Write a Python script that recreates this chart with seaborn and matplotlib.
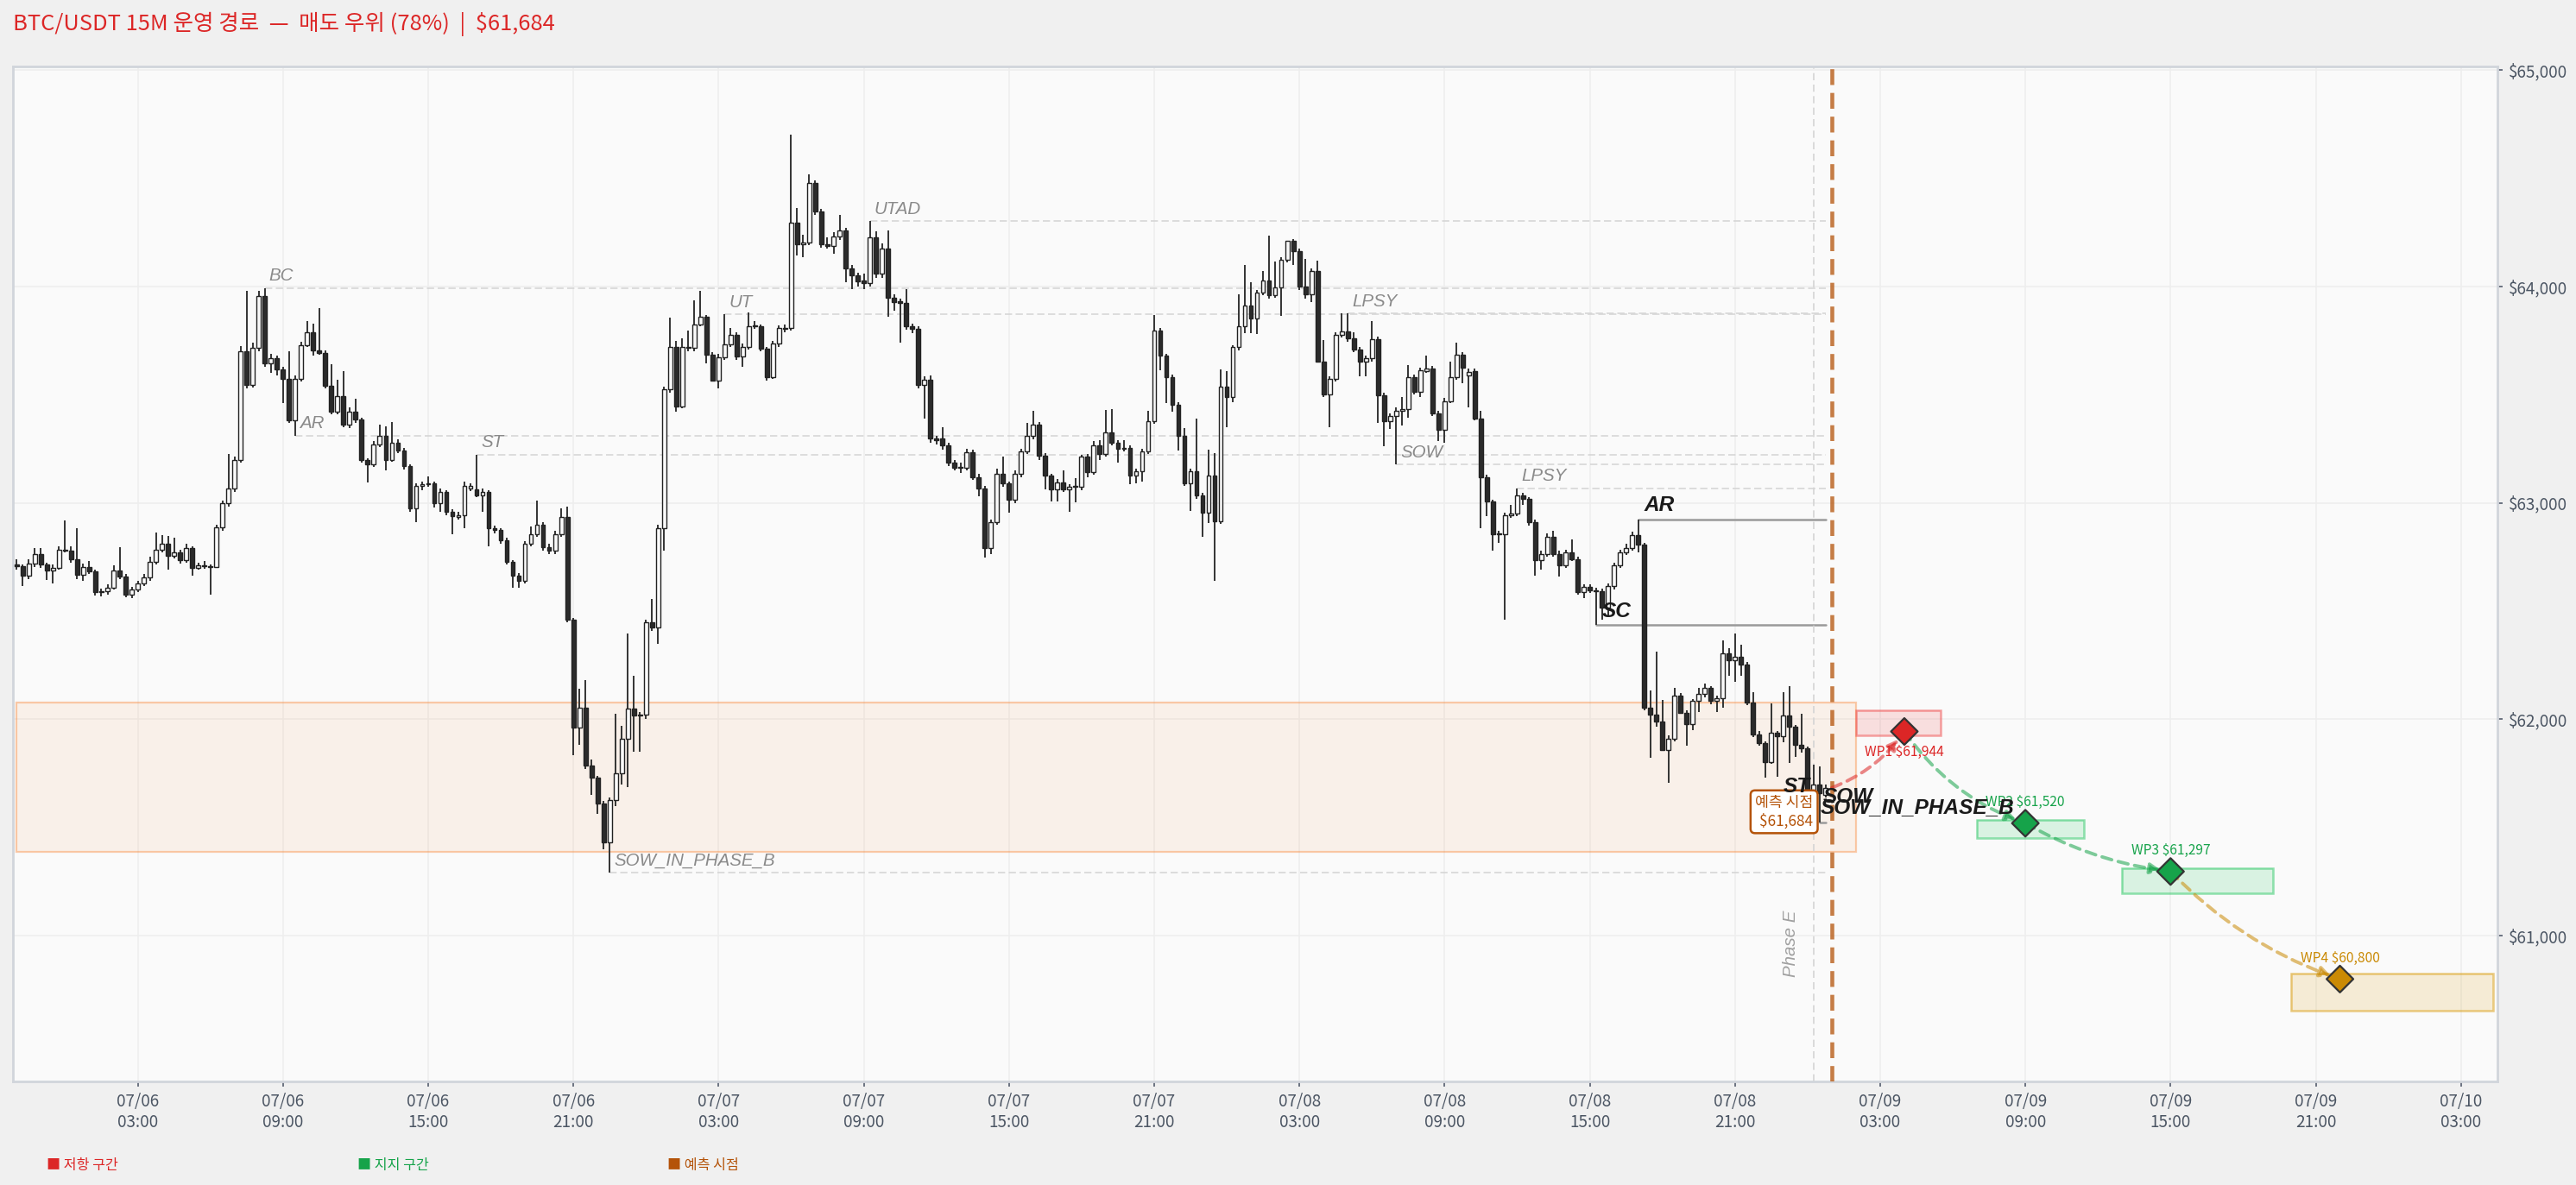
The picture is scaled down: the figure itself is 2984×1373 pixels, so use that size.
import numpy as np
import pandas as pd
import matplotlib
matplotlib.use('Agg')
import matplotlib.pyplot as plt
import matplotlib.dates as mdates
from matplotlib.patches import Rectangle
from matplotlib.ticker import FixedLocator, FuncFormatter
import seaborn as sns

# --- candle data (15M) ---
first_candle = '2024-07-05 22:00'

opens = [
    62714, 62706, 62664, 62719, 62765, 62714, 62686, 62701, 62783, 62780,
    62741, 62668, 62704, 62682, 62590, 62594, 62609, 62686, 62660, 62576,
    62600, 62627, 62655, 62728, 62783, 62811, 62756, 62770, 62737, 62792,
    62701, 62710, 62706, 62704, 62888, 62998, 63068, 63200, 63699, 63546,
    63717, 63956, 63647, 63669, 63616, 63574, 63381, 63574, 63730, 63789,
    63706, 63693, 63541, 63421, 63495, 63362, 63421, 63384, 63197, 63178,
    63270, 63311, 63200, 63280, 63243, 63169, 62976, 63077, 63087, 63090,
    62998, 63050, 62958, 62936, 62943, 63068, 63063, 63035, 63050, 62884,
    62875, 62829, 62728, 62664, 62642, 62811, 62857, 62899, 62796, 62778,
    62857, 62934, 62461, 61964, 62054, 61788, 61730, 61612, 61431, 61626,
    61750, 61912, 62050, 62016, 62020, 62449, 62425, 62884, 63524, 63721,
    63445, 63721, 63715, 63825, 63862, 63684, 63564, 63671, 63734, 63776,
    63675, 63721, 63822, 63818, 63712, 63583, 63735, 63803, 63807, 64296,
    64195, 64204, 64480, 64346, 64195, 64189, 64230, 64259, 64083, 64051,
    64028, 64015, 64226, 64061, 64177, 63950, 63932, 63926, 63816, 63803,
    63546, 63568, 63298, 63298, 63265, 63188, 63164, 63164, 63234, 63120,
    63068, 62792, 62912, 63136, 63090, 63013, 63135, 63237, 63309, 63363,
    63217, 63125, 63064, 63096, 63064, 63073, 63073, 63213, 63142, 63266,
    63227, 63327, 63277, 63252, 63256, 63128, 63145, 63237, 63377, 63797,
    63680, 63583, 63453, 63310, 63092, 63145, 63035, 62957, 63125, 62917,
    63538, 63488, 63719, 63816, 63911, 63851, 63971, 64028, 63961, 63997,
    64122, 64210, 64165, 64000, 63965, 64071, 63655, 63502, 63572, 63776,
    63794, 63759, 63709, 63652, 63669, 63757, 63498, 63377, 63401, 63424,
    63434, 63581, 63515, 63609, 63623, 63413, 63338, 63470, 63581, 63683,
    63588, 63608, 63391, 63118, 63006, 62854, 62854, 62942, 62950, 63035,
    63017, 62912, 62737, 62765, 62844, 62765, 62710, 62770, 62741, 62590,
    62612, 62596, 62594, 62517, 62618, 62710, 62770, 62792, 62851, 62806,
    62054, 62021, 61990, 61857, 61910, 62111, 62031, 61977, 62087, 62116,
    62147, 62087, 62098, 62304, 62273, 62288, 62253, 62078, 61932, 61892,
    61804, 61937, 61921, 62017, 61967, 61884, 61865, 61648, 61700, 61650,
]
closes = [
    62706, 62664, 62719, 62765, 62714, 62686, 62701, 62783, 62780, 62741,
    62668, 62704, 62682, 62590, 62594, 62609, 62686, 62660, 62576, 62600,
    62627, 62655, 62728, 62783, 62811, 62756, 62770, 62737, 62792, 62701,
    62710, 62706, 62704, 62888, 62998, 63068, 63200, 63699, 63546, 63717,
    63956, 63647, 63669, 63616, 63574, 63381, 63574, 63730, 63789, 63706,
    63693, 63541, 63421, 63495, 63362, 63421, 63384, 63197, 63178, 63270,
    63311, 63200, 63280, 63243, 63169, 62976, 63077, 63087, 63090, 62998,
    63050, 62958, 62940, 62943, 63077, 63077, 63035, 63050, 62884, 62875,
    62829, 62728, 62664, 62642, 62811, 62857, 62899, 62796, 62778, 62857,
    62934, 62462, 61964, 62054, 61788, 61730, 61612, 61431, 61626, 61750,
    61912, 62050, 62016, 62020, 62449, 62425, 62884, 63524, 63721, 63445,
    63721, 63715, 63825, 63862, 63684, 63564, 63671, 63734, 63776, 63675,
    63721, 63818, 63818, 63712, 63583, 63735, 63807, 63807, 64296, 64195,
    64204, 64480, 64346, 64195, 64189, 64230, 64259, 64083, 64051, 64024,
    64015, 64226, 64061, 64177, 63950, 63928, 63926, 63816, 63803, 63546,
    63568, 63298, 63292, 63265, 63188, 63164, 63164, 63234, 63120, 63068,
    62792, 62912, 63136, 63090, 63013, 63135, 63237, 63309, 63363, 63217,
    63125, 63064, 63096, 63064, 63073, 63073, 63213, 63142, 63266, 63227,
    63327, 63277, 63249, 63256, 63128, 63145, 63237, 63377, 63797, 63680,
    63583, 63453, 63310, 63092, 63145, 63035, 62957, 63125, 62917, 63538,
    63488, 63719, 63816, 63911, 63851, 63971, 64028, 63961, 63997, 64122,
    64210, 64165, 64000, 63965, 64071, 63655, 63502, 63572, 63776, 63794,
    63759, 63709, 63652, 63669, 63757, 63498, 63377, 63401, 63424, 63434,
    63581, 63515, 63612, 63623, 63413, 63338, 63470, 63581, 63683, 63626,
    63605, 63391, 63118, 63006, 62854, 62857, 62942, 62950, 63035, 63017,
    62912, 62737, 62765, 62844, 62765, 62710, 62770, 62741, 62590, 62612,
    62596, 62594, 62517, 62618, 62710, 62770, 62792, 62851, 62806, 62054,
    62021, 61990, 61857, 61910, 62111, 62031, 61977, 62087, 62116, 62147,
    62087, 62098, 62304, 62273, 62288, 62253, 62078, 61932, 61892, 61804,
    61937, 61921, 62017, 61967, 61884, 61865, 61648, 61700, 61660, 61684,
]
highs = [
    62740, 62715, 62740, 62790, 62790, 62725, 62715, 62800, 62921, 62800,
    62884, 62720, 62730, 62690, 62605, 62625, 62710, 62796, 62670, 62612,
    62640, 62670, 62750, 62862, 62850, 62848, 62840, 62785, 62810, 62800,
    62725, 62733, 62715, 62900, 63010, 63225, 63215, 63724, 63982, 63740,
    63982, 63993, 63690, 63680, 63630, 63700, 63590, 63745, 63840, 63830,
    63899, 63705, 63640, 63570, 63610, 63440, 63480, 63395, 63205, 63285,
    63362, 63355, 63372, 63295, 63255, 63180, 63090, 63100, 63123, 63100,
    63065, 63060, 62970, 62960, 63098, 63090, 63224, 63065, 63060, 62895,
    62885, 62840, 62735, 62675, 62825, 62893, 63010, 62910, 62810, 62870,
    62976, 62985, 62470, 62140, 62183, 61815, 61740, 61625, 61640, 62026,
    61970, 62396, 62201, 62035, 62460, 62557, 62900, 63537, 63855, 63750,
    63760, 63798, 63936, 63982, 63870, 63695, 63690, 63871, 63808, 63790,
    63735, 63879, 63842, 63825, 63720, 63750, 63820, 63825, 64700, 64364,
    64240, 64520, 64490, 64360, 64226, 64250, 64331, 64270, 64100, 64065,
    64060, 64303, 64255, 64200, 64258, 63965, 63945, 63990, 63830, 63815,
    63585, 63590, 63310, 63350, 63280, 63200, 63185, 63252, 63245, 63135,
    63080, 62925, 63160, 63215, 63100, 63150, 63250, 63370, 63427, 63373,
    63230, 63135, 63110, 63150, 63085, 63115, 63224, 63225, 63285, 63290,
    63430, 63434, 63290, 63290, 63265, 63160, 63250, 63427, 63868, 63810,
    63690, 63595, 63465, 63345, 63160, 63391, 63045, 63245, 63230, 63619,
    63609, 63730, 63964, 64099, 64018, 63985, 64071, 64236, 64114, 64135,
    64213, 64220, 64175, 64128, 64085, 64118, 63752, 63585, 63790, 63876,
    63877, 63790, 63720, 63680, 63840, 63770, 63510, 63415, 63440, 63491,
    63638, 63595, 63625, 63680, 63635, 63427, 63485, 63652, 63740, 63695,
    63620, 63620, 63427, 63130, 63015, 62870, 62955, 62990, 63068, 63045,
    63025, 62925, 62780, 62860, 62870, 62780, 62785, 62830, 62752, 62625,
    62625, 62610, 62605, 62630, 62725, 62785, 62810, 62869, 62925, 62815,
    62134, 62313, 62091, 61925, 62144, 62120, 62040, 62095, 62144, 62167,
    62155, 62110, 62366, 62330, 62397, 62345, 62265, 62127, 61945, 61900,
    62074, 61945, 62127, 62154, 61975, 62025, 61875, 61790, 61781, 61700,
]
lows = [
    62690, 62618, 62650, 62705, 62700, 62645, 62630, 62690, 62770, 62725,
    62650, 62640, 62670, 62572, 62570, 62575, 62600, 62650, 62565, 62560,
    62590, 62615, 62640, 62715, 62770, 62692, 62745, 62720, 62725, 62664,
    62690, 62695, 62576, 62698, 62870, 62985, 63050, 63185, 63530, 63535,
    63700, 63630, 63600, 63590, 63460, 63370, 63311, 63560, 63720, 63680,
    63685, 63530, 63410, 63410, 63350, 63345, 63370, 63185, 63096, 63165,
    63260, 63150, 63190, 63230, 63155, 62958, 62912, 63060, 63075, 62980,
    62958, 62945, 62857, 62925, 62884, 63055, 63025, 62958, 62800, 62860,
    62811, 62715, 62609, 62609, 62630, 62800, 62845, 62780, 62765, 62765,
    62845, 62450, 61833, 61883, 61770, 61651, 61565, 61398, 61291, 61600,
    61700, 61685, 61850, 61850, 62000, 62410, 62350, 62780, 63510, 63420,
    63436, 63700, 63700, 63815, 63647, 63564, 63531, 63660, 63720, 63660,
    63630, 63710, 63805, 63700, 63565, 63574, 63720, 63790, 63795, 64144,
    64134, 64190, 64330, 64180, 64175, 64150, 64215, 64020, 63990, 64000,
    63990, 64000, 64040, 64040, 63860, 63890, 63740, 63800, 63785, 63530,
    63390, 63280, 63270, 63245, 63170, 63150, 63140, 63150, 63105, 63031,
    62747, 62765, 62900, 63075, 62954, 63000, 63120, 63225, 63295, 63200,
    63064, 63006, 63006, 63050, 62958, 63003, 63060, 63120, 63130, 63200,
    63215, 63265, 63185, 63240, 63085, 63092, 63100, 63225, 63365, 63612,
    63462, 63420, 63241, 63080, 62964, 63020, 62843, 62907, 62640, 62905,
    63348, 63467, 63705, 63786, 63783, 63780, 63960, 63945, 63950, 63866,
    64110, 64101, 63985, 63943, 63928, 63648, 63490, 63348, 63560, 63765,
    63745, 63695, 63586, 63586, 63655, 63370, 63263, 63341, 63177, 63356,
    63395, 63500, 63491, 63600, 63400, 63287, 63277, 63460, 63570, 63552,
    63441, 63380, 62883, 62940, 62779, 62815, 62462, 62930, 62940, 62990,
    62895, 62664, 62692, 62750, 62750, 62660, 62700, 62730, 62575, 62560,
    62585, 62437, 62462, 62475, 62600, 62700, 62760, 62780, 62770, 62040,
    61822, 61967, 61854, 61708, 61900, 62025, 61878, 61950, 62035, 62100,
    62068, 62035, 62055, 62203, 62173, 62200, 62065, 61920, 61880, 61732,
    61795, 61735, 61894, 61800, 61828, 61845, 61600, 61620, 61522, 61640,
]

# --- Wyckoff levels (event candle index, level) ---
level_names = ['BC', 'AR', 'ST', 'UT', 'UTAD', 'LPSY', 'SOW', 'LPSY', 'SOW_IN_PHASE_B']
level_idx = [41, 46, 76, 117, 141, 220, 228, 248, 98]
level_price = [63993, 63311, 63224, 63871, 64303, 63877, 63177, 63068, 61291]

recent_names = ['SC', 'AR', '']
recent_idx = [261, 268, 298]
recent_price = [62437, 62925, 61522]

extra_labels = ['ST', 'SOW', 'SOW_IN_PHASE_B']
extra_times = ['2024-07-08 22:59', '2024-07-09 00:38', '2024-07-09 00:31']
extra_prices = [61662, 61617, 61568]

# --- range zone ---
range_end = '2024-07-09 02:00'
range_low, range_high = 61389, 62077

# --- forecast ---
forecast_time = '2024-07-09 01:00'
forecast_price = 61684
phase_time = '2024-07-09 00:15'

wp_labels = ['WP1', 'WP2', 'WP3', 'WP4']
wp_times = ['2024-07-09 04:00', '2024-07-09 09:00', '2024-07-09 15:00', '2024-07-09 22:00']
wp_prices = [61944, 61520, 61297, 60800]
zone_start = ['2024-07-09 02:00', '2024-07-09 07:00', '2024-07-09 13:00', '2024-07-09 20:00']
zone_end = ['2024-07-09 05:30', '2024-07-09 11:25', '2024-07-09 19:15', '2024-07-10 04:20']
zone_low = [61927, 61450, 61198, 60652]
zone_high = [62041, 61534, 61312, 60826]

y_ticks = [61000, 62000, 63000, 64000, 65000]

title = 'BTC/USDT 15M 운영 경로  —  매도 우위 (78%)  |  $61,684'

# --- styling ---
sns.set_theme(style='whitegrid')
plt.rcParams['font.family'] = ['Noto Sans CJK KR', 'DejaVu Sans']
plt.rcParams['axes.unicode_minus'] = False

RED, GREEN, GOLD, BROWN = '#dc2626', '#16a34a', '#ca8a04', '#b45309'
wp_colors = [RED, GREEN, GREEN, GOLD]
zone_colors = ['#ef4444', '#22c55e', '#22c55e', '#d99a06']
path_colors = [RED, GREEN, GREEN, GOLD]
path_rad = [0.15, 0.16, 0.10, 0.12]
label_dy = [-8.7, 8.7, 8.7, 8.7]
LATIN = ['Liberation Sans', 'DejaVu Sans']

def dn(s):
    return mdates.date2num(pd.Timestamp(s))

times = pd.date_range(first_candle, periods=len(closes), freq='15min')
df = pd.DataFrame({'t': mdates.date2num(times), 'open': opens, 'high': highs,
                   'low': lows, 'close': closes})
df['up'] = df['close'] >= df['open']
df['bottom'] = df[['open', 'close']].min(axis=1)
df['height'] = (df['close'] - df['open']).abs().clip(lower=4)

fig = plt.figure(figsize=(14.92, 6.865), dpi=200, facecolor='#f0f0f0')
ax = fig.add_axes([0.00493, 0.0876, 0.9645, 0.8565])
ax.set_facecolor('#fafafa')

# range zone
r0 = df['t'].iloc[0]
ax.add_patch(Rectangle((r0, range_low), dn(range_end) - r0, range_high - range_low,
                       facecolor='#f97316', alpha=0.07, edgecolor='none', zorder=1))
ax.add_patch(Rectangle((r0, range_low), dn(range_end) - r0, range_high - range_low,
                       facecolor='none', edgecolor='#f97316', alpha=0.35, lw=0.8, zorder=1))

# Wyckoff level lines
t_end = df['t'].iloc[-1]
for name, i, p in zip(level_names, level_idx, level_price):
    t0 = df['t'].iloc[i]
    ax.plot([t0, t_end], [p, p], color='#d6d6d6', lw=0.6, ls=(0, (5, 2.5)), zorder=2)
    ax.annotate(name, (t0, p), xytext=(1.8, 3), textcoords='offset points',
                ha='left', va='baseline', fontsize=7.4, style='italic',
                color='#8a8a8a', family=LATIN, zorder=6)

for name, i, p in zip(recent_names, recent_idx, recent_price):
    t0 = df['t'].iloc[i]
    ax.plot([t0, t_end], [p, p], color='#9a9a9a', lw=0.9, zorder=2)
    if name:
        ax.annotate(name, (t0, p), xytext=(2.4, 3.3), textcoords='offset points',
                    ha='left', va='baseline', fontsize=8.8, style='italic',
                    weight='bold', color='#1a1a1a', family=LATIN, zorder=10)

# candles
w = 0.68 / 96
ax.vlines(df['t'], df['low'], df['high'], color='#333333', lw=0.7, zorder=3)
up = df[df['up']]
dn_ = df[~df['up']]
ax.bar(up['t'], up['height'], bottom=up['bottom'], width=w, color='#fafafa',
       edgecolor='#222222', linewidth=0.5, zorder=4)
ax.bar(dn_['t'], dn_['height'], bottom=dn_['bottom'], width=w, color='#2b2b2b',
       edgecolor='#222222', linewidth=0.5, zorder=4)

# phase boundary + forecast line
ax.axvline(dn(phase_time), color='#d4d4d4', lw=0.6, ls=(0, (5, 3)), zorder=2)
ax.text(dn('2024-07-08 23:19'), 60965, 'Phase E', rotation=90, ha='center', va='center',
        fontsize=7.4, style='italic', color='#a0a0a0', family=LATIN, zorder=6)
ax.axvline(dn(forecast_time), color=BROWN, alpha=0.75, lw=1.65, ls=(0, (4, 2)), zorder=5)

# waypoint zones
for s, e, lo, hi, c in zip(zone_start, zone_end, zone_low, zone_high, zone_colors):
    ax.add_patch(Rectangle((dn(s), lo), dn(e) - dn(s), hi - lo, facecolor=c,
                           alpha=0.15, edgecolor='none', zorder=2))
    ax.add_patch(Rectangle((dn(s), lo), dn(e) - dn(s), hi - lo, facecolor='none',
                           edgecolor=c, alpha=0.5, lw=0.9, zorder=2))

# forecast path
wp = pd.DataFrame({'label': wp_labels, 't': [dn(t) for t in wp_times], 'price': wp_prices})
pts = [(dn(forecast_time), forecast_price)] + list(zip(wp['t'], wp['price']))
for k in range(len(wp)):
    ax.annotate('', xy=pts[k + 1], xytext=pts[k],
                arrowprops=dict(arrowstyle='-|>,head_length=0.3,head_width=0.15',
                                connectionstyle=f'arc3,rad={path_rad[k]}',
                                color=path_colors[k], alpha=0.55, lw=1.4,
                                ls=(0, (3, 2)), shrinkA=0, shrinkB=4),
                zorder=7)

sns.scatterplot(data=wp, x='t', y='price', hue='label', palette=wp_colors, marker='D',
                s=62, edgecolor='#333333', linewidth=0.8, legend=False, zorder=8, ax=ax)
for lab, t, p, c, dy in zip(wp['label'], wp['t'], wp['price'], wp_colors, label_dy):
    ax.annotate(f'{lab} ${p:,.0f}', (t, p), xytext=(0, dy), textcoords='offset points',
                ha='center', va='center', fontsize=5.6, color=c, zorder=9)

# forecast point label
ax.text(dn('2024-07-09 00:14'), 61573, '예측 시점\n$61,684', ha='right', va='center',
        multialignment='right', fontsize=6.2, color=BROWN, zorder=9,
        bbox=dict(boxstyle='round,pad=0.3', fc='white', ec=BROWN, lw=0.9))

for name, t, p in zip(extra_labels, extra_times, extra_prices):
    ax.text(dn(t), p, name, ha='left', va='baseline', fontsize=8.8, style='italic',
            weight='bold', color='#1a1a1a', family=LATIN, zorder=10)

# axes
ax.set_xlim(dn('2024-07-05 21:50'), dn('2024-07-10 04:30'))
ax.set_ylim(60328, 65018)
ax.set_xlabel('')
ax.set_ylabel('')
ax.xaxis.set_major_locator(mdates.HourLocator(byhour=[3, 9, 15, 21]))
ax.xaxis.set_major_formatter(mdates.DateFormatter('%m/%d\n%H:%M'))
ax.yaxis.set_major_locator(FixedLocator(y_ticks))
ax.yaxis.set_major_formatter(FuncFormatter(lambda v, _: f'${v:,.0f}'))
ax.yaxis.tick_right()
ax.grid(True, color='#eeeeee', lw=0.6)
ax.tick_params(axis='both', labelsize=6.8, labelcolor='#4b5563', color='#6b7280',
               length=2.2, width=0.7, bottom=True, right=True)
ax.tick_params(axis='x', pad=2.5)
ax.tick_params(axis='y', pad=2.5)
for sp in ax.spines.values():
    sp.set_color('#d1d5db')
    sp.set_linewidth(1.0)

fig.text(0.00513, 1 - 35 / 1373, title, color=RED, fontsize=9.2, va='baseline', ha='left')
legend_items = [('■ 저항 구간', RED, 54), ('■ 지지 구간', GREEN, 414), ('■ 예측 시점', BROWN, 773)]
for txt, c, px in legend_items:
    fig.text(px / 2984, 1 - 1350 / 1373, txt, color=c, fontsize=5.8, va='center', ha='left')

fig.savefig('out.png', dpi=200, facecolor=fig.get_facecolor())
